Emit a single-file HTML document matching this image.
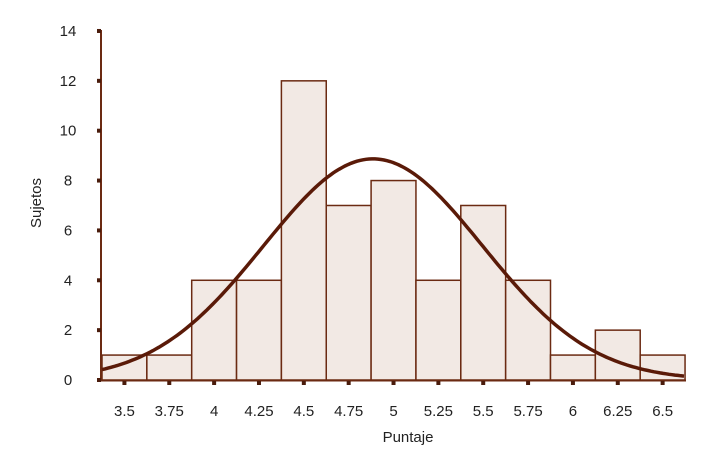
<!DOCTYPE html>
<html><head><meta charset="utf-8"><style>body{margin:0;background:#fff}svg{display:block}text{font-family:"Liberation Sans",sans-serif;font-size:15px;fill:#222}</style></head>
<body>
<svg id="s" width="709" height="472" xmlns="http://www.w3.org/2000/svg">
<g id="bars" fill="#f2e9e4" stroke="#6b2a12" stroke-width="1.5"></g>
<line x1="101" y1="30" x2="101" y2="381" stroke="#6b2a12" stroke-width="2"/>
<line x1="100" y1="380.5" x2="686" y2="380.5" stroke="#6b2a12" stroke-width="2"/>
<g id="ticks" fill="#4a1c0c"></g>
<g id="lab" text-anchor="middle"></g>
<path id="curve" fill="none" stroke="#5a1a08" stroke-width="3.5"/>
<text x="408" y="442" text-anchor="middle">Puntaje</text>
<text x="0" y="0" text-anchor="middle" transform="translate(41,203) rotate(-90)">Sujetos</text>
</svg>
<script>
var ns="http://www.w3.org/2000/svg";
function el(p,t,a,txt){var e=document.createElementNS(ns,t);for(var k in a)e.setAttribute(k,a[k]);if(txt!==undefined)e.textContent=txt;document.getElementById(p).appendChild(e);}
var v=[1,1,4,4,12,7,8,4,7,4,1,2,1],u=24.93,w=44.85,x0=102,y0=380;
var labs=["3.5","3.75","4","4.25","4.5","4.75","5","5.25","5.5","5.75","6","6.25","6.5"];
for(var i=0;i<13;i++){var x=x0+i*w;el("bars","rect",{x:x,y:y0-v[i]*u,width:w,height:v[i]*u});
var c=x+w/2;el("ticks","rect",{x:c-2,y:381,width:4,height:4});el("lab","text",{x:c,y:416},labs[i]);}
for(var j=0;j<=7;j++){var y=y0-j*2*u;el("ticks","rect",{x:97,y:y-2,width:4,height:4});el("lab","text",{x:68,y:y+5},String(j*2));}
var d="";for(var x=102;x<=685;x+=3){var val=8.87*Math.exp(-Math.pow(x-373,2)/(2*12000));d+=(d?"L":"M")+x+","+(y0-val*u).toFixed(1);}
document.getElementById("curve").setAttribute("d",d);
</script>
</body></html>
